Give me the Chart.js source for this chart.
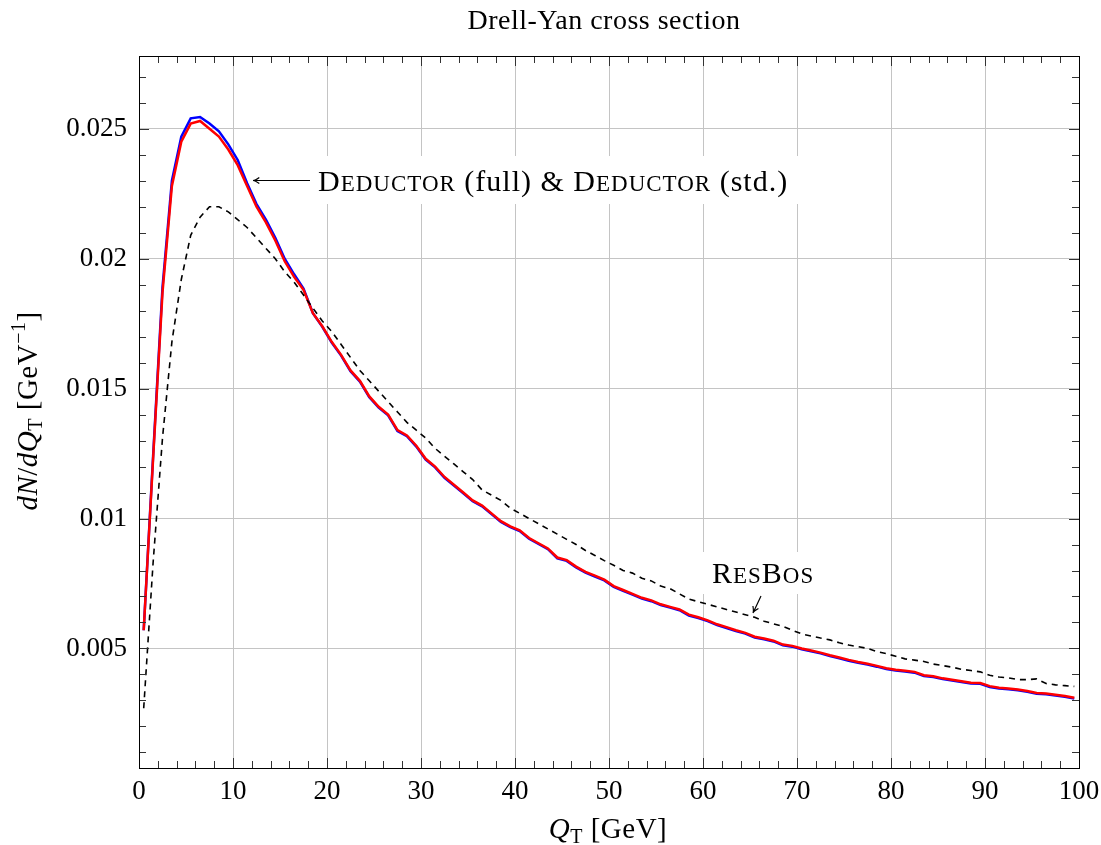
<!DOCTYPE html>
<html>
<head>
<meta charset="utf-8">
<script src="https://cdn.jsdelivr.net/npm/chart.js@4.4.1/dist/chart.umd.min.js"></script>
<style>
  html, body { margin: 0; padding: 0; background: #fff; }
  #wrap { width: 1101px; height: 845px; }
</style>
</head>
<body>
<div id="wrap"><canvas id="dyChart" width="1101" height="845"></canvas></div>
<script>
// Q_T bin centres [GeV]
const qt = [
    0.5, 1.5, 2.5, 3.5, 4.5, 5.5, 6.5, 7.5, 8.5, 9.5,
    10.5, 11.5, 12.5, 13.5, 14.5, 15.5, 16.5, 17.5, 18.5, 19.5,
    20.5, 21.5, 22.5, 23.5, 24.5, 25.5, 26.5, 27.5, 28.5, 29.5,
    30.5, 31.5, 32.5, 33.5, 34.5, 35.5, 36.5, 37.5, 38.5, 39.5,
    40.5, 41.5, 42.5, 43.5, 44.5, 45.5, 46.5, 47.5, 48.5, 49.5,
    50.5, 51.5, 52.5, 53.5, 54.5, 55.5, 56.5, 57.5, 58.5, 59.5,
    60.5, 61.5, 62.5, 63.5, 64.5, 65.5, 66.5, 67.5, 68.5, 69.5,
    70.5, 71.5, 72.5, 73.5, 74.5, 75.5, 76.5, 77.5, 78.5, 79.5,
    80.5, 81.5, 82.5, 83.5, 84.5, 85.5, 86.5, 87.5, 88.5, 89.5,
    90.5, 91.5, 92.5, 93.5, 94.5, 95.5, 96.5, 97.5, 98.5, 99.5
];

// Deductor (full) - blue
const deductorFull = [
    0.0057, 0.0124, 0.0189, 0.0230, 0.0247, 0.0254, 0.02545, 0.0252, 0.0249, 0.0244,
    0.0238, 0.0229, 0.0221, 0.0215, 0.0208, 0.0200, 0.0194, 0.01885, 0.0179, 0.01738,
    0.01677, 0.01627, 0.01567, 0.01527, 0.01467, 0.01427, 0.01397, 0.01337, 0.01317, 0.01277,
    0.01227, 0.01197, 0.01157, 0.01127, 0.01097, 0.01067, 0.01047, 0.01017, 0.00987, 0.00967,
    0.00952, 0.00922, 0.00902, 0.00882, 0.00847, 0.00837, 0.00812, 0.00792, 0.00777, 0.00762,
    0.00737, 0.00722, 0.00707, 0.00692, 0.00682, 0.00667, 0.00657, 0.00647, 0.00627, 0.00617,
    0.00605, 0.00590, 0.00579, 0.00567, 0.00557, 0.00542, 0.00535, 0.00527, 0.00512, 0.00507,
    0.00497, 0.00489, 0.00481, 0.00471, 0.00462, 0.00453, 0.00445, 0.00438, 0.00430, 0.00421,
    0.00415, 0.00411, 0.00407, 0.00394, 0.00390, 0.00382, 0.00377, 0.00371, 0.00365, 0.00364,
    0.00352, 0.00346, 0.00343, 0.00339, 0.00333, 0.00326, 0.00324, 0.00319, 0.00314, 0.00307
];

// Deductor (std.) - red
const deductorStd = [
    0.0057, 0.0123, 0.0187, 0.0228, 0.0245, 0.0252, 0.0253, 0.0250, 0.0247, 0.0242,
    0.0236, 0.0228, 0.0220, 0.0214, 0.0207, 0.0199, 0.0193, 0.0188, 0.0179, 0.0174,
    0.0168, 0.0163, 0.0157, 0.0153, 0.0147, 0.0143, 0.0140, 0.0134, 0.0132, 0.0128,
    0.0123, 0.0120, 0.0116, 0.0113, 0.0110, 0.0107, 0.0105, 0.0102, 0.0099, 0.0097,
    0.00955, 0.00925, 0.00905, 0.00885, 0.00850, 0.00840, 0.00815, 0.00795, 0.00780, 0.00765,
    0.00740, 0.00725, 0.00710, 0.00695, 0.00685, 0.00670, 0.00660, 0.00650, 0.00630, 0.00620,
    0.00608, 0.00593, 0.00582, 0.00570, 0.00560, 0.00545, 0.00538, 0.00530, 0.00515, 0.00510,
    0.00500, 0.00492, 0.00484, 0.00474, 0.00465, 0.00456, 0.00448, 0.00441, 0.00433, 0.00424,
    0.00418, 0.00414, 0.00410, 0.00397, 0.00393, 0.00385, 0.00380, 0.00374, 0.00368, 0.00367,
    0.00355, 0.00349, 0.00346, 0.00342, 0.00336, 0.00329, 0.00327, 0.00322, 0.00317, 0.00310
];

// ResBos - black dashed
const resbos = [
    0.0027, 0.0083, 0.0131, 0.0168, 0.0192, 0.0209, 0.0216, 0.0220, 0.0220, 0.0218,
    0.0215, 0.0212, 0.0208, 0.0204, 0.0200, 0.0195, 0.0191, 0.0186, 0.0181, 0.0176,
    0.0172, 0.0167, 0.0162, 0.0157, 0.0153, 0.0149, 0.0145, 0.0141, 0.0137, 0.0134,
    0.0131, 0.0127, 0.0124, 0.0121, 0.0118, 0.0115, 0.0111, 0.0109, 0.0107, 0.0104,
    0.0102, 0.0100, 0.0098, 0.0096, 0.0094, 0.0092, 0.0090, 0.00877, 0.00858, 0.00838,
    0.0082, 0.0080, 0.0079, 0.0077, 0.0076, 0.0074, 0.0073, 0.0071, 0.0069, 0.0068,
    0.0067, 0.0066, 0.0065, 0.0064, 0.0063, 0.0062, 0.00605, 0.00595, 0.00585, 0.0057,
    0.00556, 0.00548, 0.0054, 0.00533, 0.00522, 0.00513, 0.00507, 0.0050, 0.00488, 0.0048,
    0.0047, 0.0046, 0.00455, 0.0045, 0.0044, 0.00434, 0.00428, 0.0042, 0.00415, 0.0041,
    0.00397, 0.0039, 0.00387, 0.0038, 0.0038, 0.00383, 0.00365, 0.0036, 0.00357, 0.00354
];

const xTickValues = [0, 10, 20, 30, 40, 50, 60, 70, 80, 90, 100];
const yTickValues = [0.005, 0.01, 0.015, 0.02, 0.025];

const SERIF = '"Liberation Serif", "DejaVu Serif", serif';
const toPoints = ys => ys.map((y, i) => ({ x: qt[i], y }));

// draw a row of text pieces (mixed fonts / sub- and superscripts)
function drawRuns(ctx, runs, x, y, align, spacing) {
    ctx.letterSpacing = (spacing || 0) + 'px';
    let total = 0;
    runs.forEach(r => { ctx.font = r.font; total += ctx.measureText(r.text).width; });
    let cx = align === 'center' ? x - total / 2 : x;
    runs.forEach(r => {
        ctx.font = r.font;
        ctx.fillText(r.text, cx, y + (r.dy || 0));
        cx += ctx.measureText(r.text).width;
    });
    ctx.letterSpacing = '0px';
    return total;
}

function arrow(ctx, x1, y1, x2, y2) {
    const a = Math.atan2(y2 - y1, x2 - x1);
    ctx.beginPath();
    ctx.moveTo(x1, y1);
    ctx.lineTo(x2, y2);
    ctx.moveTo(x2 - 7 * Math.cos(a - 0.45), y2 - 7 * Math.sin(a - 0.45));
    ctx.quadraticCurveTo(x2 - 2 * Math.cos(a), y2 - 2 * Math.sin(a), x2, y2);
    ctx.quadraticCurveTo(x2 - 2 * Math.cos(a), y2 - 2 * Math.sin(a), x2 - 7 * Math.cos(a + 0.45), y2 - 7 * Math.sin(a + 0.45));
    ctx.stroke();
}

const decorPlugin = {
    id: 'decor',
    afterDatasetsDraw(chart) {
        const { ctx, chartArea: ca, scales } = chart;
        const xs = scales.x, ys = scales.y;
        ctx.save();

        // ticks pointing inwards on all four sides
        ctx.strokeStyle = '#333';
        ctx.lineWidth = 1;
        ctx.beginPath();
        for (let k = 0; k <= 50; k++) {
            const px = Math.round(xs.getPixelForValue(k * 2)) + 0.5;
            const len = k % 5 === 0 ? 10 : 7;
            ctx.moveTo(px, ca.bottom); ctx.lineTo(px, ca.bottom - len);
            ctx.moveTo(px, ca.top); ctx.lineTo(px, ca.top + len);
        }
        for (let k = 1; k <= 27; k++) {
            const py = Math.round(ys.getPixelForValue(k / 1000)) + 0.5;
            const len = k % 5 === 0 ? 10 : 7;
            ctx.moveTo(ca.left, py); ctx.lineTo(ca.left + len, py);
            ctx.moveTo(ca.right, py); ctx.lineTo(ca.right - len, py);
        }
        ctx.stroke();

        // frame
        ctx.strokeStyle = '#000';
        ctx.strokeRect(Math.round(ca.left) + 0.5, Math.round(ca.top) + 0.5,
            Math.round(ca.right - ca.left), Math.round(ca.bottom - ca.top));

        ctx.fillStyle = '#000';
        ctx.textBaseline = 'alphabetic';

        // title
        drawRuns(ctx, [{ text: 'Drell-Yan cross section', font: '28px ' + SERIF }],
            604, 29, 'center', 0.5);

        // x axis label
        drawRuns(ctx, [
            { text: 'Q', font: 'italic 29px ' + SERIF },
            { text: 'T', font: '20px ' + SERIF, dy: 5 },
            { text: ' [GeV]', font: '29px ' + SERIF }
        ], 608, 838, 'center', 0.5);

        // y axis label
        ctx.save();
        ctx.translate(37, 411);
        ctx.rotate(-Math.PI / 2);
        drawRuns(ctx, [
            { text: 'dN', font: 'italic 29px ' + SERIF },
            { text: '/', font: '29px ' + SERIF },
            { text: 'dQ', font: 'italic 29px ' + SERIF },
            { text: 'T', font: '20px ' + SERIF, dy: 5 },
            { text: ' [GeV', font: '29px ' + SERIF },
            { text: '\u22121', font: '20px ' + SERIF, dy: -12 },
            { text: ']', font: '29px ' + SERIF }
        ], 0, 0, 'center', 0.5);
        ctx.restore();

        // Deductor annotation
        const big = '30px ' + SERIF, small = '23px ' + SERIF;
        ctx.fillStyle = '#fff';
        ctx.fillRect(312, 156, 500, 48);
        ctx.fillStyle = '#000';
        drawRuns(ctx, [
            { text: 'D', font: big }, { text: 'EDUCTOR', font: small },
            { text: ' (full) & ', font: big },
            { text: 'D', font: big }, { text: 'EDUCTOR', font: small },
            { text: ' (std.)', font: big }
        ], 318, 191, 'left', 1);
        ctx.strokeStyle = '#000';
        ctx.lineWidth = 1.2;
        arrow(ctx, 310, 180.5, 253, 180.5);

        // ResBos annotation
        ctx.fillStyle = '#fff';
        ctx.fillRect(703, 552, 126, 42);
        ctx.fillStyle = '#000';
        drawRuns(ctx, [
            { text: 'R', font: big }, { text: 'ES', font: small },
            { text: 'B', font: big }, { text: 'OS', font: small }
        ], 712, 583, 'left', 1);
        arrow(ctx, 761, 596, 753, 613);

        ctx.restore();
    }
};

const ctx = document.getElementById('dyChart').getContext('2d');
new Chart(ctx, {
    type: 'line',
    data: {
        datasets: [
            {
                label: 'ResBos',
                data: toPoints(resbos),
                borderColor: '#000000',
                borderWidth: 1.6,
                borderDash: [6, 5],
                pointRadius: 0,
                tension: 0,
                fill: false
            },
            {
                label: 'Deductor (std.)',
                data: toPoints(deductorStd),
                borderColor: '#ff0000',
                borderWidth: 2.5,
                pointRadius: 0,
                tension: 0,
                fill: false
            },
            {
                label: 'Deductor (full)',
                data: toPoints(deductorFull),
                borderColor: '#0000ff',
                borderWidth: 2.5,
                pointRadius: 0,
                tension: 0,
                fill: false
            }
        ]
    },
    options: {
        responsive: false,
        animation: false,
        devicePixelRatio: 1,
        layout: { padding: { left: 0, right: 22, top: 56, bottom: 0 } },
        plugins: {
            legend: { display: false },
            title: { display: false },
            tooltip: { enabled: false }
        },
        scales: {
            x: {
                type: 'linear',
                min: 0,
                max: 100,
                afterFit: s => { s.height = 77; s.paddingLeft = 0; s.paddingRight = 0; },
                afterBuildTicks: s => { s.ticks = xTickValues.map(v => ({ value: v })); },
                grid: { color: '#c4c4c4', lineWidth: 1, drawTicks: false },
                border: { display: false },
                ticks: {
                    padding: 8,
                    color: '#000',
                    font: { family: SERIF, size: 27 },
                    maxRotation: 0
                }
            },
            y: {
                type: 'linear',
                min: 0.0004,
                max: 0.0278,
                afterFit: s => { s.width = 139; s.paddingTop = 0; s.paddingBottom = 0; },
                afterBuildTicks: s => { s.ticks = yTickValues.map(v => ({ value: v })); },
                grid: { color: '#c4c4c4', lineWidth: 1, drawTicks: false },
                border: { display: false },
                ticks: {
                    padding: 12,
                    color: '#000',
                    font: { family: SERIF, size: 27 },
                    callback: v => String(v)
                }
            }
        }
    },
    plugins: [decorPlugin]
});
</script>
</body>
</html>
